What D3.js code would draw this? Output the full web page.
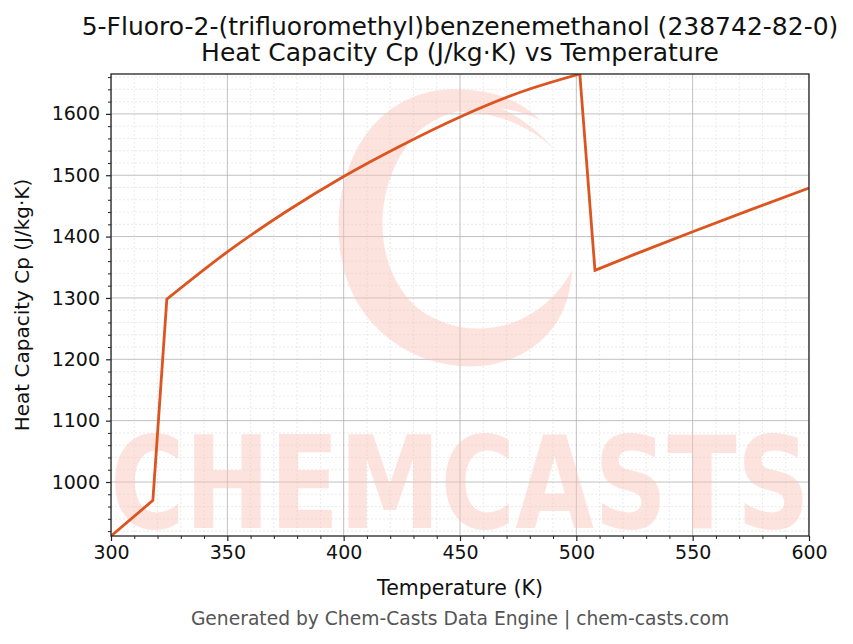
<!DOCTYPE html>
<html>
<head>
<meta charset="utf-8">
<script src="https://cdn.jsdelivr.net/npm/d3@7"></script>
<style>
  body { margin: 0; background: #fff; }
  text { font-family: "DejaVu Sans", sans-serif; }
</style>
</head>
<body>
<div id="chart"></div>
<script>
// chart values
var temps = [300, 318, 324, 350, 375, 400, 425, 450, 475, 501.5, 508, 525, 550, 575, 600];
var cpValues = [912, 970, 1298, 1375, 1440, 1498, 1549, 1595, 1634, 1665, 1345, 1371, 1408, 1444, 1479];
var xTicks = [300, 350, 400, 450, 500, 550, 600];
var yTicks = [1000, 1100, 1200, 1300, 1400, 1500, 1600];
var titleLines = ["5-Fluoro-2-(trifluoromethyl)benzenemethanol (238742-82-0)", "Heat Capacity Cp (J/kg\u00b7K) vs Temperature"];

var width = 853, height = 644;
var margin = {left: 111, right: 44, top: 74, bottom: 108};
var lineColor = "#dc5420";

var svg = d3.select("#chart").append("svg")
	.attr("width", width)
	.attr("height", height);

var x = d3.scaleLinear().domain([300, 600]).range([margin.left, width - margin.right]);
var y = d3.scaleLinear().domain([912, 1665]).range([height - margin.bottom, margin.top]);

var plotW = width - margin.left - margin.right;
var plotH = height - margin.top - margin.bottom;

svg.append("defs").append("clipPath").attr("id", "clip")
	.append("rect")
	.attr("x", margin.left).attr("y", margin.top)
	.attr("width", plotW).attr("height", plotH);

// minor grid
var xMinor = d3.range(300, 601, 10).filter(function(d) { return d % 50 !== 0; });
var yMinor = d3.range(920, 1665, 20).filter(function(d) { return d % 100 !== 0; });

var grid = svg.append("g").attr("clip-path", "url(#clip)");
grid.selectAll("line.xminor").data(xMinor).enter().append("line")
	.attr("x1", x).attr("x2", x)
	.attr("y1", margin.top).attr("y2", margin.top + plotH)
	.attr("stroke", "#dcdcdc").attr("stroke-width", 0.6).attr("stroke-dasharray", "2,2");
grid.selectAll("line.yminor").data(yMinor).enter().append("line")
	.attr("y1", y).attr("y2", y)
	.attr("x1", margin.left).attr("x2", margin.left + plotW)
	.attr("stroke", "#dcdcdc").attr("stroke-width", 0.6).attr("stroke-dasharray", "2,2");
grid.selectAll("line.xmajor").data(xTicks).enter().append("line")
	.attr("x1", x).attr("x2", x)
	.attr("y1", margin.top).attr("y2", margin.top + plotH)
	.attr("stroke", "#b0b0b0").attr("stroke-width", 0.8);
grid.selectAll("line.ymajor").data(yTicks).enter().append("line")
	.attr("y1", y).attr("y2", y)
	.attr("x1", margin.left).attr("x2", margin.left + plotW)
	.attr("stroke", "#b0b0b0").attr("stroke-width", 0.8);

// watermark
var wm = svg.append("g").attr("clip-path", "url(#clip)").attr("opacity", 0.45);
wm.append("text")
	.attr("x", 460).attr("y", 528)
	.attr("text-anchor", "middle")
	.attr("font-size", 128)
	.attr("font-weight", "bold")
	.attr("textLength", 700)
	.attr("lengthAdjust", "spacingAndGlyphs")
	.attr("fill", "#fcc3b8")
	.text("CHEMCASTS");
// swirl (rough crescent)
wm.append("path")
	.attr("d", "M470,90 C380,80 330,160 340,250 C350,330 420,375 490,365 C540,355 570,320 572,270 C540,330 470,345 420,310 C370,270 370,180 420,130 C450,105 500,100 540,120 C520,100 495,92 470,90 Z")
	.attr("fill", "#fcc3b8");
wm.append("path")
	.attr("d", "M450,100 C480,95 520,110 555,150 C530,125 495,112 460,112 Z")
	.attr("fill", "#fcc3b8");

// data line: smooth pieces joined by sharp corners
var pts = temps.map(function(t, i) { return [t, cpValues[i]]; });
var pieces = [[0, 1], [1, 2], [2, 9], [9, 10], [10, 14]];

var line = d3.line()
	.x(function(d) { return x(d[0]); })
	.y(function(d) { return y(d[1]); })
	.curve(d3.curveMonotoneX);

var pathD = pieces.map(function(p) {
	return line(pts.slice(p[0], p[1] + 1));
}).map(function(s, i) { return i === 0 ? s : "L" + s.slice(1); }).join("");

svg.append("path")
	.attr("clip-path", "url(#clip)")
	.attr("d", pathD)
	.attr("fill", "none")
	.attr("stroke", lineColor)
	.attr("stroke-width", 2.8)
	.attr("stroke-linejoin", "miter");

// axes
var xAxis = svg.append("g")
	.attr("transform", "translate(0," + (margin.top + plotH) + ")")
	.call(d3.axisBottom(x).tickValues(xTicks).tickSize(5).tickPadding(5).tickFormat(d3.format("d")));
var xAxisMinor = svg.append("g")
	.attr("transform", "translate(0," + (margin.top + plotH) + ")")
	.call(d3.axisBottom(x).tickValues(xMinor).tickSize(3).tickFormat(""));
var yAxis = svg.append("g")
	.attr("transform", "translate(" + margin.left + ",0)")
	.call(d3.axisLeft(y).tickValues(yTicks).tickSize(5).tickPadding(6).tickFormat(d3.format("d")));
var yAxisMinor = svg.append("g")
	.attr("transform", "translate(" + margin.left + ",0)")
	.call(d3.axisLeft(y).tickValues(yMinor).tickSize(3).tickFormat(""));

xAxisMinor.selectAll("text").remove();
yAxisMinor.selectAll("text").remove();

[xAxis, xAxisMinor, yAxis, yAxisMinor].forEach(function(a) {
	a.select(".domain").remove();
	a.attr("font-size", null).attr("font-family", null);
	a.selectAll("line").attr("stroke", "#222").attr("stroke-width", 1);
	a.selectAll("text").attr("font-size", 19).attr("fill", "#111");
});
xAxis.selectAll("line").attr("stroke-width", 1.2);
yAxis.selectAll("line").attr("stroke-width", 1.2);

// frame
svg.append("rect")
	.attr("x", margin.left).attr("y", margin.top)
	.attr("width", plotW).attr("height", plotH)
	.attr("fill", "none")
	.attr("stroke", "#222")
	.attr("stroke-width", 1.3);

// titles and labels
svg.selectAll("text.title").data(titleLines).enter().append("text")
	.attr("class", "title")
	.attr("x", 460)
	.attr("y", function(d, i) { return 35 + i * 26; })
	.attr("text-anchor", "middle")
	.attr("font-size", 25)
	.attr("fill", "#111")
	.text(function(d) { return d; });

svg.append("text")
	.attr("x", x(450)).attr("y", 595)
	.attr("text-anchor", "middle")
	.attr("font-size", 20.5)
	.attr("fill", "#111")
	.text("Temperature (K)");

svg.append("text")
	.attr("transform", "translate(29," + (margin.top + plotH / 2) + ") rotate(-90)")
	.attr("text-anchor", "middle")
	.attr("font-size", 20)
	.attr("fill", "#111")
	.text("Heat Capacity Cp (J/kg\u00b7K)");

svg.append("text")
	.attr("x", 460).attr("y", 625)
	.attr("text-anchor", "middle")
	.attr("font-size", 18.7)
	.attr("fill", "#555")
	.text("Generated by Chem-Casts Data Engine | chem-casts.com");
</script>
</body>
</html>
